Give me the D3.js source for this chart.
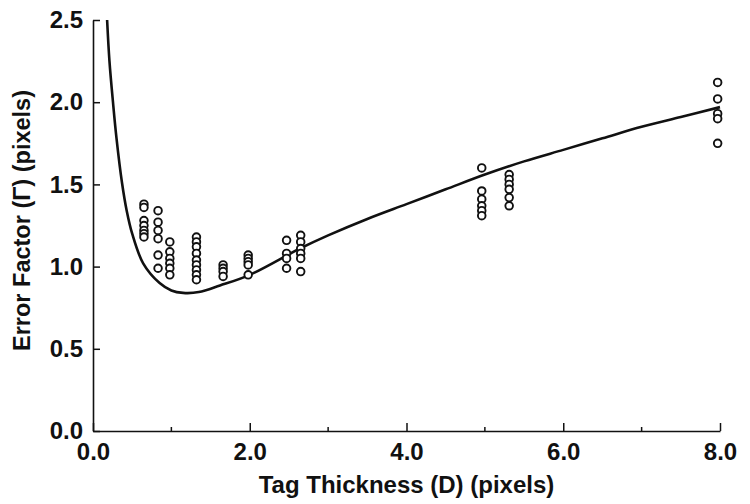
<!DOCTYPE html>
<html>
<head>
<meta charset="utf-8">
<script src="https://cdn.jsdelivr.net/npm/d3@7"></script>
<style>
  body { margin: 0; background: #fff; }
  text { font-family: "Liberation Sans", Arial, sans-serif; font-weight: bold; fill: #111; }
</style>
</head>
<body>
<script>
// measured columns of points: tag thickness D and error factor values
const thickness = [0.65, 0.83, 0.98, 1.32, 1.66, 1.98, 2.47, 2.65, 4.96, 5.31, 7.97];
const errorValues = [
  [1.38, 1.36, 1.28, 1.25, 1.22, 1.20, 1.18],
  [1.34, 1.27, 1.22, 1.17, 1.07, 0.99],
  [1.15, 1.09, 1.05, 1.02, 0.99, 0.95],
  [1.18, 1.15, 1.12, 1.08, 1.04, 1.01, 0.98, 0.95, 0.92],
  [1.01, 0.99, 0.97, 0.94],
  [1.07, 1.05, 1.03, 1.01, 0.95],
  [1.16, 1.08, 1.05, 0.99],
  [1.19, 1.15, 1.11, 1.08, 1.05, 0.97],
  [1.60, 1.46, 1.41, 1.37, 1.34, 1.31],
  [1.56, 1.53, 1.50, 1.47, 1.42, 1.37],
  [2.12, 2.02, 1.93, 1.90, 1.75]
];

// fitted model curve
const curveD = [0.18, 0.21, 0.255, 0.30, 0.37, 0.43, 0.50, 0.64, 0.85, 1.0, 1.15, 1.35, 1.62, 2.0, 2.64, 3.0, 3.5, 4.0, 4.5, 5.0, 5.5, 6.0, 6.5, 7.0, 7.5, 8.0];
const curveV = [2.5, 2.25, 2.0, 1.78, 1.51, 1.34, 1.20, 1.02, 0.90, 0.855, 0.84, 0.845, 0.885, 0.95, 1.11, 1.19, 1.29, 1.38, 1.47, 1.56, 1.64, 1.71, 1.78, 1.85, 1.91, 1.97];

const xTicks = [0, 2, 4, 6, 8];
const xMinor = [1, 3, 5, 7];
const yTicks = [0, 0.5, 1.0, 1.5, 2.0, 2.5];

const width = 750, height = 504;
const margin = {top: 20, right: 30, bottom: 73, left: 93};

const x = d3.scaleLinear().domain([0, 8]).range([margin.left, width - margin.right]);
const y = d3.scaleLinear().domain([0, 2.5]).range([height - margin.bottom, margin.top]);

const svg = d3.select('body').append('svg')
  .attr('width', width)
  .attr('height', height);

// axes with inside ticks
const xAxis = d3.axisBottom(x).tickValues(xTicks).tickSizeInner(-8).tickSizeOuter(0)
  .tickFormat(d3.format('.1f')).tickPadding(12);
const gx = svg.append('g')
  .attr('transform', `translate(0,${y(0)})`)
  .call(xAxis);
gx.selectAll('text').attr('font-size', 24).attr('fill', '#111');

gx.selectAll('.minor')
  .data(xMinor)
  .join('line')
  .attr('x1', d => x(d)).attr('x2', d => x(d))
  .attr('y1', 0).attr('y2', -4)
  .attr('stroke', '#111').attr('stroke-width', 1.5);

const yAxis = d3.axisLeft(y).tickValues(yTicks).tickSizeInner(-7).tickSizeOuter(0)
  .tickFormat(d3.format('.1f')).tickPadding(10);
const gy = svg.append('g')
  .attr('transform', `translate(${x(0)},0)`)
  .call(yAxis);
gy.selectAll('text').attr('font-size', 24).attr('fill', '#111');

svg.selectAll('.domain').attr('stroke', '#111').attr('stroke-width', 1.6);
svg.selectAll('.tick line').attr('stroke', '#111').attr('stroke-width', 1.5);

// model curve
const line = d3.line()
  .x((d, i) => x(curveD[i]))
  .y(d => y(d))
  .curve(d3.curveCatmullRom.alpha(0.5));

svg.append('path')
  .datum(curveV)
  .attr('d', line)
  .attr('fill', 'none')
  .attr('stroke', '#111')
  .attr('stroke-width', 2.6);

// data points
const points = [];
thickness.forEach((t, i) => {
  errorValues[i].forEach(v => points.push({d: t, v: v}));
});

svg.append('g')
  .selectAll('circle')
  .data(points)
  .join('circle')
  .attr('cx', d => x(d.d))
  .attr('cy', d => y(d.v))
  .attr('r', 3.8)
  .attr('fill', '#fff')
  .attr('stroke', '#111')
  .attr('stroke-width', 1.9);

// axis titles
svg.append('text')
  .attr('x', (x(0) + x(8)) / 2)
  .attr('y', 493)
  .attr('text-anchor', 'middle')
  .attr('font-size', 24)
  .text('Tag Thickness (D) (pixels)');

svg.append('text')
  .attr('transform', `translate(30,${(y(0) + y(2.5)) / 2 - 5}) rotate(-90)`)
  .attr('text-anchor', 'middle')
  .attr('font-size', 23.5)
  .text('Error Factor (Γ)  (pixels)');
</script>
</body>
</html>
